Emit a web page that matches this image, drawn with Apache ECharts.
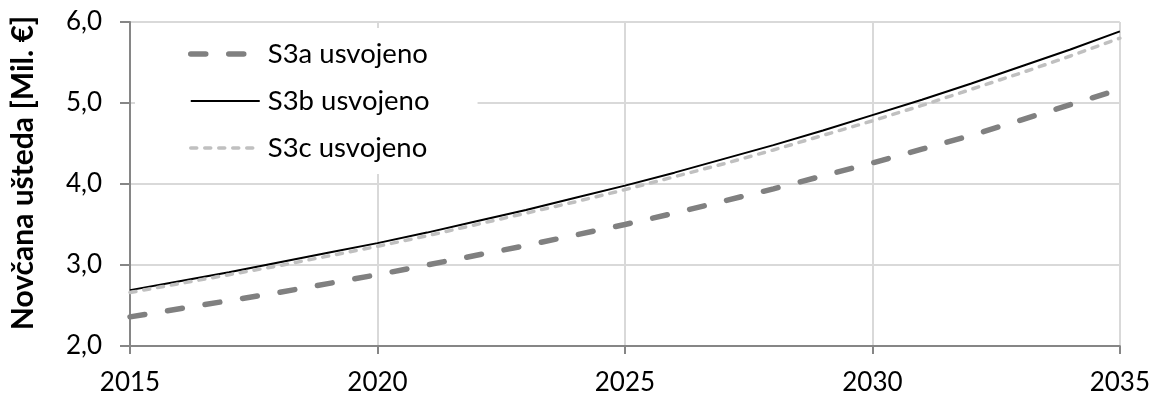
<!DOCTYPE html>
<html><head><meta charset="utf-8">
<script src="https://cdn.jsdelivr.net/npm/echarts@6/dist/echarts.min.js"></script>
<style>html,body{margin:0;padding:0;background:#fff}#c{width:1153px;height:396px}</style>
</head><body><div id="c"></div>
<script>
const years = [2015,2016,2017,2018,2019,2020,2021,2022,2023,2024,2025,2026,2027,2028,2029,2030,2031,2032,2033,2034,2035];
const s3a = [2.36,2.46,2.56,2.66,2.77,2.88,3.00,3.12,3.24,3.37,3.50,3.64,3.79,3.94,4.10,4.26,4.43,4.60,4.79,4.98,5.17];
const s3b = [2.69,2.80,2.91,3.03,3.15,3.27,3.40,3.54,3.68,3.83,3.98,4.14,4.31,4.48,4.66,4.85,5.04,5.24,5.45,5.66,5.885];
const s3c = [2.66,2.77,2.88,2.99,3.11,3.23,3.36,3.50,3.64,3.78,3.93,4.09,4.25,4.42,4.60,4.78,4.97,5.17,5.37,5.58,5.80];
const seriesNames = ['S3a usvojeno','S3b usvojeno','S3c usvojeno'];
const yTitle = 'Novčana ušteda [Mil. €]';
const font = 'Lato, "Open Sans", sans-serif';
const pair = arr => years.map((y,i)=>[y,arr[i]]);
const chart = echarts.init(document.getElementById('c'));
chart.setOption({
  animation:false,
  textStyle:{fontFamily:font},
  grid:{left:130,right:32,top:22,bottom:50},
  legend:{
    orient:'vertical', left:135, top:28,
    backgroundColor:'#fff',
    padding:[12,48,12,53],
    itemWidth:69, itemHeight:14, itemGap:19,
    itemStyle:{opacity:0},
    lineStyle:{width:'inherit'},
    textStyle:{fontSize:27.5,color:'#000',fontFamily:font,padding:[0,0,0,3]},
    data:seriesNames
  },
  xAxis:{
    type:'value', min:2015, max:2035, interval:5,
    axisLine:{lineStyle:{color:'#868686',width:2}},
    axisTick:{show:true,length:8,lineStyle:{color:'#868686',width:2}},
    axisLabel:{fontSize:26,color:'#000',margin:24,formatter:v=>String(v)},
    splitLine:{show:true,lineStyle:{color:'#d9d9d9',width:2}}
  },
  yAxis:{
    type:'value', min:2, max:6, interval:1,
    name:yTitle, nameLocation:'middle', nameGap:92,
    nameTextStyle:{fontSize:30,fontWeight:'bold',color:'#000',fontFamily:font,padding:[0,0,0,22]},
    axisLine:{show:true,lineStyle:{color:'#868686',width:2}},
    axisTick:{show:true,length:10,lineStyle:{color:'#868686',width:2}},
    axisLabel:{fontSize:26,color:'#000',margin:28,formatter:v=>v.toFixed(1).replace('.',',')},
    splitLine:{show:true,lineStyle:{color:'#d9d9d9',width:2}}
  },
  series:[
    {name:seriesNames[0],type:'line',data:pair(s3a),symbol:'none',
     lineStyle:{color:'#808080',width:5.5,type:[15,23],cap:'round'},itemStyle:{color:'#808080'}},
    {name:seriesNames[1],type:'line',data:pair(s3b),symbol:'none',
     lineStyle:{color:'#000',width:2},itemStyle:{color:'#000'}},
    {name:seriesNames[2],type:'line',data:pair(s3c),symbol:'none',
     lineStyle:{color:'#c0c0c0',width:3.5,type:[6,8],cap:'round'},itemStyle:{color:'#c0c0c0'}}
  ]
});
</script></body></html>
